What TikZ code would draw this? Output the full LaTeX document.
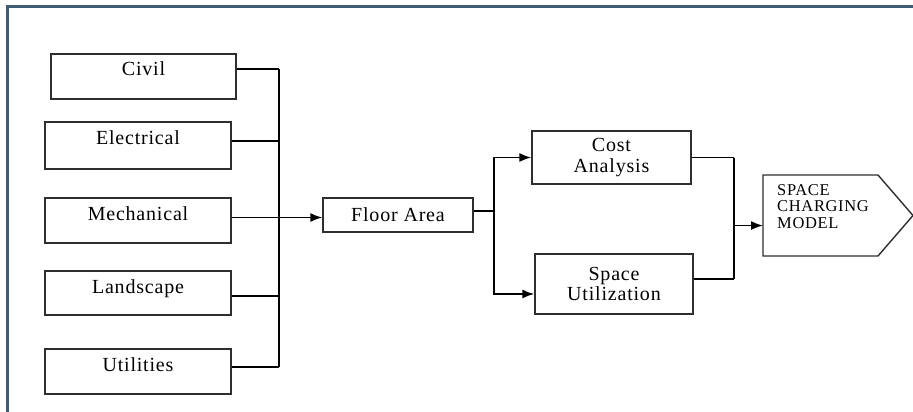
\documentclass[tikz,border=0pt]{standalone}
\usepackage{fontspec}
\setmainfont[LetterSpace=4]{Liberation Serif}
\usetikzlibrary{arrows.meta,calc}

\definecolor{framecol}{HTML}{3E5B76}
\definecolor{boxline}{HTML}{2E2E2E}

\tikzset{
  srcbox/.style = {draw=boxline, line width=1.4pt, inner sep=0pt,
    minimum width=186pt, text height=22pt, text depth=23pt},
  procbox/.style = {draw=boxline, line width=1.4pt, inner sep=0pt, align=center},
  wire/.style = {line width=1.6pt},
  feedarrow/.style = {line width=1.6pt, -{Latex[length=12pt,width=9pt]}},
}

\begin{document}
\begin{tikzpicture}
      [
        x = 1pt, y = -1pt,
        font = \fontsize{20pt}{21pt}\selectfont,
      ]
      \useasboundingbox (0,0) rectangle (913,412);

      % frame
      \draw[framecol, line width=2.5pt] (7.5,412) -- (7.5,6.5) -- (913,6.5);

      % inputs
      \node[srcbox, minimum width=185pt] (civil) at (143.5,76.5) {Civil};
      \node[srcbox, text depth=25pt] (elec) at (138,145.5) {Electrical};
      \node[srcbox] (mech) at (138,220.5) {Mechanical};
      \node[srcbox, text depth=22pt] (land) at (138,293) {Landscape};
      \node[srcbox] (util) at (138,371.5) {Utilities};

      \node[procbox, minimum width=150pt, minimum height=34pt] (floor) at (398,215) {Floor Area};
      \node[procbox, minimum width=159pt, minimum height=53pt] (cost) at (611.5,157.5) {Cost\\Analysis};
      \node[procbox, minimum width=158pt, minimum height=60pt] (space) at (614,284) {Space\\[-1pt]Utilization};

      % output shape
      \draw[boxline, line width=1.4pt] (763,175) -- (878,175) -- (913,215.5) -- (878,256) -- (763,256) -- cycle;
      \node[anchor=north west, align=left, inner xsep=14pt, inner ysep=0pt,
            font=\fontsize{16.5pt}{16.5pt}\selectfont] (model) at (763,184) {SPACE\\CHARGING\\MODEL};

      % bus into floor area
      \draw[wire] ([yshift=7.5pt]civil.east) -- ++(42,0) coordinate (bustop);
      \draw[wire] ([yshift=4.5pt]util.east) -- ([yshift=4.5pt]util.east -| bustop) coordinate (busbot);
      \draw[wire] (bustop) -- (busbot);
      \draw[wire] ([yshift=4.5pt]elec.east) -- ([yshift=4.5pt]elec.east -| bustop);
      \draw[wire] ([yshift=-3pt]land.east) -- ([yshift=-3pt]land.east -| bustop);
      \draw[feedarrow] ([yshift=3pt]mech.east) -- ([yshift=3pt]mech.east -| floor.west);

      % split
      \draw[wire] ([yshift=4pt]floor.east) -- ++(20,0) coordinate (split);
      \draw[feedarrow] (split) |- (cost.west);
      \draw[feedarrow] (split) |- ([yshift=-10pt]space.west);

      % merge
      \draw[wire] (cost.east) -- ++(42,0) coordinate (mergetop);
      \draw[wire] ([yshift=5pt]space.east) -- ([yshift=5pt]space.east -| mergetop) coordinate (mergebot);
      \draw[wire] (mergetop) -- (mergebot);
      \coordinate (merge) at ($(mergetop)!0.56!(mergebot)$);
      \draw[feedarrow] (merge) -- (merge -| model.west);

\end{tikzpicture}
\end{document}
